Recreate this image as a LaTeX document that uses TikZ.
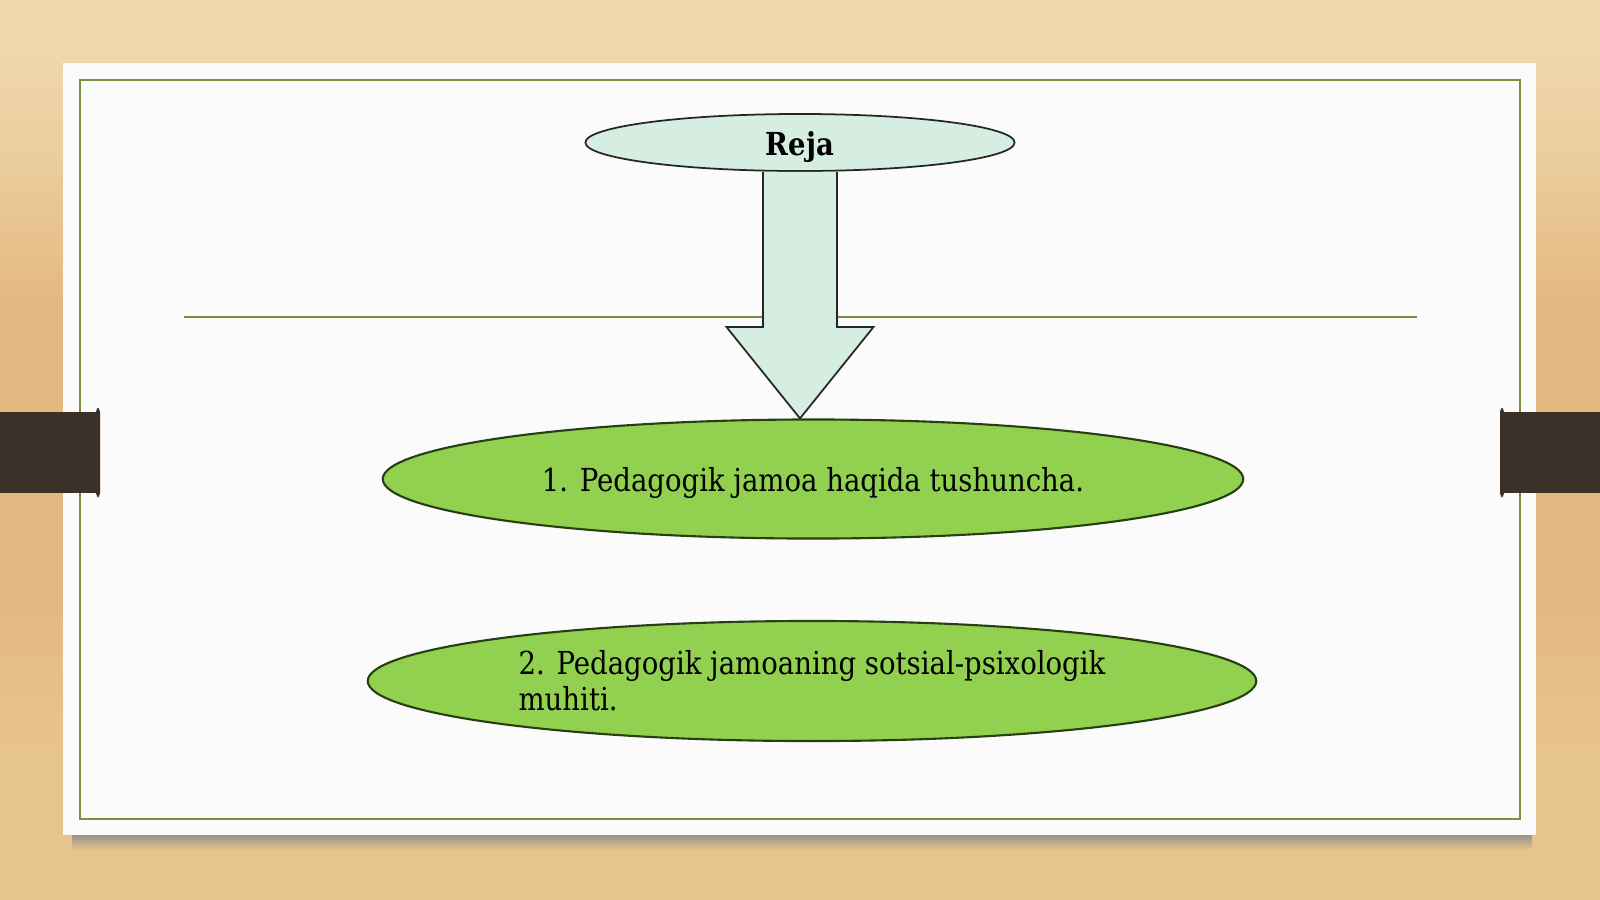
\documentclass[tikz,border=0pt]{standalone}
\usepackage{fontspec}
\setmainfont{DejaVu Serif}[FakeStretch=0.87]
\usetikzlibrary{shapes.geometric,calc}

\definecolor{wood}{RGB}{231,196,140}
\definecolor{woodlight}{RGB}{240,214,172}
\definecolor{woodband}{RGB}{228,184,128}
\definecolor{card}{RGB}{251,251,251}
\definecolor{olive}{RGB}{119,147,60}
\definecolor{tabbrown}{RGB}{60,49,41}
\definecolor{mint}{RGB}{214,238,226}
\definecolor{leaf}{RGB}{146,208,80}
\definecolor{leafline}{RGB}{38,64,18}
\pgfdeclareverticalshading{woodshade}{100bp}{color(0bp)=(wood); color(25bp)=(wood); color(33bp)=(wood); color(42bp)=(woodband); color(58bp)=(woodband); color(67bp)=(woodlight!60!wood); color(72bp)=(woodlight); color(100bp)=(woodlight)}

\begin{document}
\begin{tikzpicture}[x=0.01cm,y=-0.01cm]
\tikzstyle{every node}+=[inner sep=0pt, font=\fontsize{9}{10.2}\selectfont]
\tikzstyle{oval}=[ellipse, draw=leafline, line width=0.6pt, fill=leaf, text=black]
\useasboundingbox (0,0) rectangle (1600,899);
% wooden background
\shade [shading=woodshade] (0,0) rectangle (1600,899);
% card with shadow
\shade [top color=black!45, bottom color=wood] (72,833) rectangle (1532,850);
\fill [card] (63,63) rectangle (1536,835);
\draw [olive, line width=0.6pt] (80,80) rectangle (1520,819);
% side tabs
\fill [tabbrown] (0,412) rectangle (99,493);
\fill [tabbrown, rounded corners=1pt] (96,408) rectangle (100,497);
\fill [tabbrown] (1501,412) rectangle (1600,493);
\fill [tabbrown, rounded corners=1pt] (1500,408) rectangle (1504,497);
% rule
\coordinate (rule l) at (184,317);
\coordinate (rule r) at (1417,317);
\draw [olive, line width=0.5pt] (rule l) -- (rule r);
% nodes
\node [ellipse, draw=black!85, line width=0.5pt, fill=mint, minimum width=4.29cm, minimum height=0.57cm, font=\fontsize{9}{10.2}\selectfont\bfseries] (reja) at (800,142.5) {\raisebox{-3.6pt}[0pt][0pt]{Reja}};
\node [oval, minimum width=8.6cm, minimum height=1.19cm, text depth=0pt] (p1) at (813,479) {1. Pedagogik jamoa haqida tushuncha.};
\node [oval, minimum width=8.88cm, minimum height=1.2cm, align=left] (p2) at (812,681) {2. Pedagogik jamoaning sotsial-psixologik\\muhiti.};
% block arrow
\coordinate (neck) at (800,327);
\coordinate (tip) at (reja.south |- p1.north);
\fill [mint] ($(reja.south)+(-37,0)$) -- ($(neck)+(-37,0)$) -- ($(neck)+(-73.5,0)$) -- (tip) -- ($(neck)+(73.5,0)$) -- ($(neck)+(37,0)$) -- ($(reja.south)+(37,0)$) -- cycle;
\draw [black!85, line width=0.5pt] ($(reja.south)+(-37,0)$) -- ($(neck)+(-37,0)$) -- ($(neck)+(-73.5,0)$) -- (tip) -- ($(neck)+(73.5,0)$) -- ($(neck)+(37,0)$) -- ($(reja.south)+(37,0)$);
\end{tikzpicture}
\end{document}
